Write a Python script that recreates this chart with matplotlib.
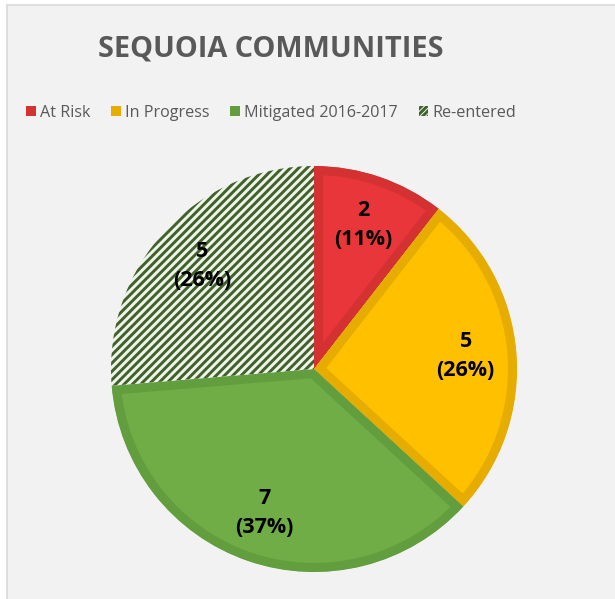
import matplotlib
matplotlib.use("Agg")
import matplotlib.pyplot as plt
from matplotlib.patches import Rectangle, Patch

plt.rcParams['font.family'] = ['Open Sans', 'DejaVu Sans']
plt.rcParams['hatch.linewidth'] = 2.1

title = "SEQUOIA COMMUNITIES"
categories = ["At Risk", "In Progress", "Mitigated 2016-2017", "Re-entered"]
values = [2, 5, 7, 5]
fill_colors = ["#E8363A", "#FFC000", "#70AD47", "#EEF5E8"]
edge_colors = ["#D43232", "#E6AD00", "#629E3E", "#40602C"]
hatches = [None, None, None, "////"]

total = sum(values)

W, H = 615, 599
fig = plt.figure(figsize=(W / 100, H / 100), dpi=100)
fig.patch.set_facecolor("white")

# chart area background
fig.add_artist(Rectangle((7 / W, -0.1), 1.2, 1 - 5 / H + 0.1, transform=fig.transFigure,
                         facecolor="#F2F2F2", edgecolor="#D9D9D9", linewidth=1.2, zorder=0))

cx, cy, r = 314, 369, 203
ax = fig.add_axes([(cx - r) / W, (H - cy - r) / H, 2 * r / W, 2 * r / H])
ax.patch.set_alpha(0)

def fmt(p):
    return f"{round(p * total / 100)}\n({p:.0f}%)"

wedges, texts, autotexts = ax.pie(values, startangle=90, counterclock=False,
                                  autopct=fmt, pctdistance=0.75,
                                  textprops=dict(fontsize=15.5, fontweight="bold",
                                                 color="black", linespacing=1.5))
ax.set_xlim(-1, 1)
ax.set_ylim(-1, 1)
for w, fc, ec, h in zip(wedges, fill_colors, edge_colors, hatches):
    w.set_facecolor(fc)
    w.set_edgecolor(ec)
    if h:
        w.set_hatch(h)
        w.set_linewidth(0)
    else:
        w.set_linewidth(13)
        w.set_joinstyle("miter")
        w.set_clip_on(True)
        w.set_clip_path(w.get_path(), w.get_transform())

fig.text(271 / W, 1 - 49 / H, title, ha="center", va="center", fontsize=20.8,
         fontweight="bold", color="#595959")

handles = []
for fc, ec, h in zip(fill_colors, edge_colors, hatches):
    if h:
        handles.append(Patch(facecolor=fc, edgecolor=ec, hatch="//////", linewidth=0))
    else:
        handles.append(Patch(facecolor=ec, edgecolor="none"))
leg = fig.legend(handles, categories, loc="center", bbox_to_anchor=(271 / W, 1 - 113 / H),
                 ncol=4, frameon=False, fontsize=11.6, handlelength=0.6, handleheight=0.6,
                 handletextpad=0.25, columnspacing=1.3, borderpad=0)
for t in leg.get_texts():
    t.set_color("#595959")

fig.savefig("out.png", dpi=100)
